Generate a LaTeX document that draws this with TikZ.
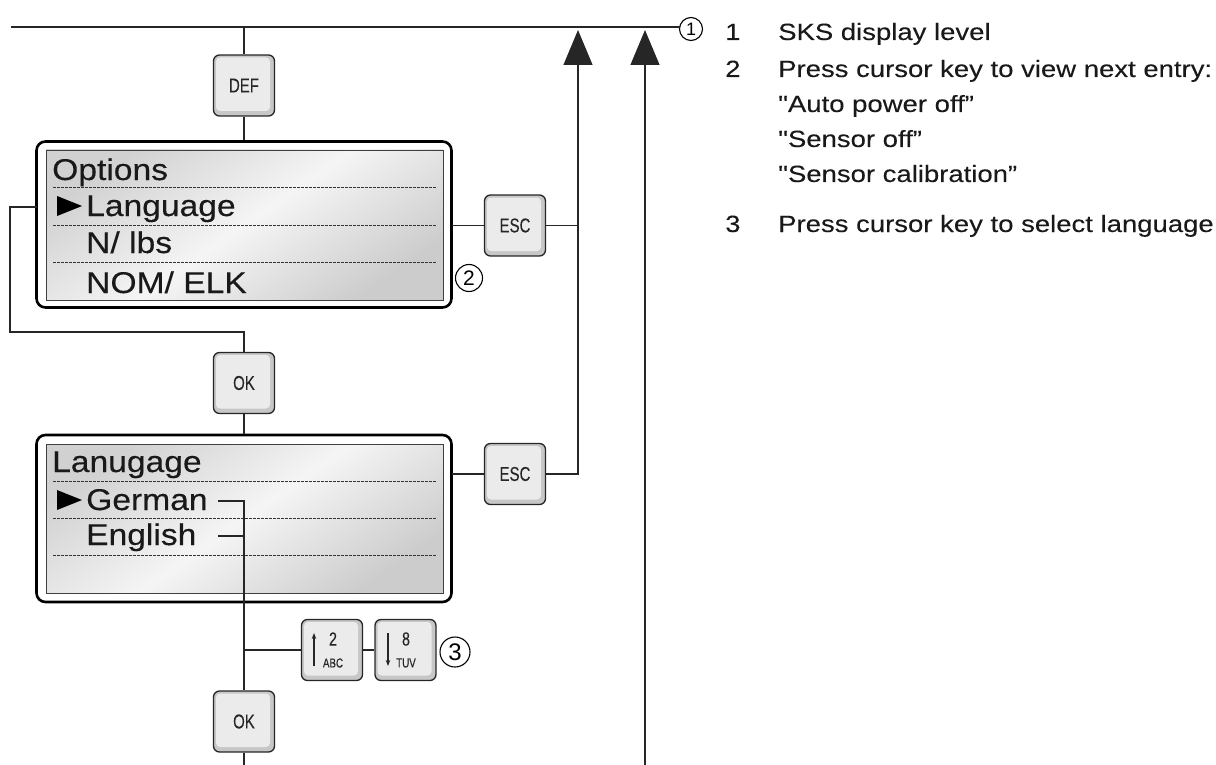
\documentclass[tikz,border=0pt]{standalone}
\usepackage{fontspec}
\setmainfont{Liberation Sans}
\newfontfamily\dispfont[FakeStretch=1.12,FakeBold=0.3]{Liberation Sans}
\newfontfamily\legfont[FakeStretch=1.17,FakeBold=0.15]{Liberation Sans}
\newfontfamily\keyfont[FakeStretch=0.75,FakeBold=0.2]{Liberation Sans}
\usetikzlibrary{arrows.meta,calc}
\tikzset{
  conn/.style={draw=black!85, line width=1.2pt},
  uparrow/.style={conn, -{Triangle[length=35pt,width=29pt]}},
  keybox/.style={draw=black!85, line width=1.3pt, rounded corners=6pt,
    minimum width=61pt, minimum height=61pt, inner sep=0pt, fill=black!22,
    font=\keyfont\fontsize{20}{20}\selectfont, text=black!85,
    path picture={\fill[black!8, rounded corners=4pt]
      ([shift={(2.5pt,-2.5pt)}]path picture bounding box.north west) rectangle
      ([shift={(-4.5pt,5pt)}]path picture bounding box.south east);}},
  keysub/.style={inner sep=0pt, text=black!85, font=\keyfont\fontsize{#1}{#1}\selectfont},
  dispouter/.style={draw=black, line width=2.6pt, rounded corners=9pt, fill=white, inner sep=0pt},
  disptext/.style={anchor=base west, inner sep=0pt, text=black!90, font=\dispfont\fontsize{30}{30}\selectfont},
  dashrow/.style={draw=black!80, line width=0.8pt, dash pattern=on 3pt off 1pt},
  callout/.style={circle, draw=black, line width=1.1pt, inner sep=0pt, minimum size=#1, font=\fontsize{18}{18}\selectfont},
  legtext/.style={anchor=base west, inner sep=0pt, text=black!90, font=\legfont\fontsize{23.5}{23.5}\selectfont},
}
\begin{document}
\begin{tikzpicture}[x=1pt,y=-1pt]
\useasboundingbox (0,0) rectangle (1216,765);

% ---- top level line and callout 1
\coordinate (tl) at (11,27);
\node[callout=23pt] (c1) at (691,29) {1};
\coordinate (c1w) at (680,27);
\draw[conn] (tl) -- (c1w);

% ---- legend
\node[legtext] (n1) at (725,40) {1};
\node[legtext] (t1) at (778,40) {SKS display level};
\node[legtext] (n2) at (725,77) {2};
\node[legtext] (t2) at (778,77) {Press cursor key to view next entry:};
\node[legtext] (t2a) at (778,112) {"Auto power off”};
\node[legtext] (t2b) at (778,147) {"Sensor off”};
\node[legtext] (t2c) at (778,182) {"Sensor calibration”};
\node[legtext] (n3) at (725,232) {3};
\node[legtext] (t3) at (778,232) {Press cursor key to select language};

% ---- DEF key
\node[keybox] (def) at (244,85.5) {DEF};
\coordinate (deftop) at (244,27);
\draw[conn] (deftop) -- (def.north);

% ---- Options display
\node[dispouter, minimum width=415pt, minimum height=166pt] (d1) at (244,224.5) {};
\shade[left color=black!18, right color=black!20, middle color=black!4, shading angle=35] (46,150) rectangle (443,300);
\draw[black!75, line width=0.8pt] (46,150) rectangle (443,300);
\draw[conn] (def.south) -- (d1.north);
\node[disptext] (o0) at (52,180) {Options};
\fill[black] (57,196) -- (82,206) -- (57,216) -- cycle;
\node[disptext] (o1) at (86,216) {Language};
\node[disptext] (o2) at (86,253) {N/ lbs};
\node[disptext] (o3) at (86,293) {NOM/ ELK};
\draw[dashrow] (53,187.5) -- (436,187.5);
\draw[dashrow] (53,225) -- (436,225);
\draw[dashrow] (53,262.5) -- (436,262.5);
\node[callout=27pt, font=\fontsize{21}{21}\selectfont] (c2) at (469,278) {2};

% ---- ESC 1
\node[keybox] (esc1) at (515,225.5) {ESC};
\coordinate (e1l) at (452,225.5);
\draw[conn] (e1l) -- (esc1.west);
\coordinate (j1) at (578,225.5);
\draw[conn] (esc1.east) -- (j1);

% ---- left loop back to OK
\coordinate (lp) at (37,207);
\node[keybox] (ok1) at (244,383) {OK};
\draw[conn] (lp) -- (10,207) -- (10,332) -- (244,332) -- (ok1.north);

% ---- Language display
\node[dispouter, minimum width=415pt, minimum height=167pt] (d2) at (244,518.5) {};
\shade[left color=black!18, right color=black!20, middle color=black!4, shading angle=35] (46,444) rectangle (443,593);
\draw[black!75, line width=0.8pt] (46,444) rectangle (443,593);
\draw[conn] (ok1.south) -- (d2.north);
\node[disptext] (l0) at (52,472) {Lanugage};
\fill[black] (57,490) -- (82,500) -- (57,510) -- cycle;
\node[disptext] (l1) at (86,510) {German};
\node[disptext] (l2) at (86,545) {English};
\draw[dashrow] (53,481.5) -- (436,481.5);
\draw[dashrow] (53,518) -- (436,518);
\draw[dashrow] (53,555.5) -- (436,555.5);

% ---- ESC 2
\node[keybox] (esc2) at (515,474) {ESC};
\coordinate (e2l) at (452,474);
\draw[conn] (e2l) -- (esc2.west);
\coordinate (arr1) at (578,30);
\draw[uparrow] (esc2.east) -- (578,474) -- (j1) -- (arr1);

% ---- selection lines
\node[keybox] (ok2) at (244,721.5) {OK};
\coordinate (ge) at (218,501);
\coordinate (en) at (218,536);
\draw[conn] (ge) -- (244,501) -- (ok2.north);
\draw[conn] (en) -- (244,536);

% ---- cursor keys
\node[keybox] (k2) at (332,650) {};
\node[keysub=19] (k2n) at (333,639) {2};
\node[keysub=13] (k2l) at (333,663) {ABC};
\draw[black!85, line width=1.2pt, -{Stealth[length=6pt,width=4.5pt]}] (314,666) -- (314,633);
\node[keybox] (k8) at (405.5,650) {};
\node[keysub=19] (k8n) at (406,639) {8};
\node[keysub=13] (k8l) at (406,663) {TUV};
\draw[black!85, line width=1.2pt, -{Stealth[length=6pt,width=4.5pt]}] (388,633) -- (388,666);
\coordinate (kb) at (244,650);
\draw[conn] (kb) -- (k2.west);
\draw[conn] (k2.east) -- (k8.west);
\node[callout=30pt, font=\fontsize{24}{24}\selectfont] (c3) at (455,652) {3};

% ---- bottom
\coordinate (bot) at (244,765);
\draw[conn] (ok2.south) -- (bot);
\coordinate (b2) at (645,765);
\coordinate (arr2) at (645,30);
\draw[uparrow] (b2) -- (arr2);
\end{tikzpicture}
\end{document}
